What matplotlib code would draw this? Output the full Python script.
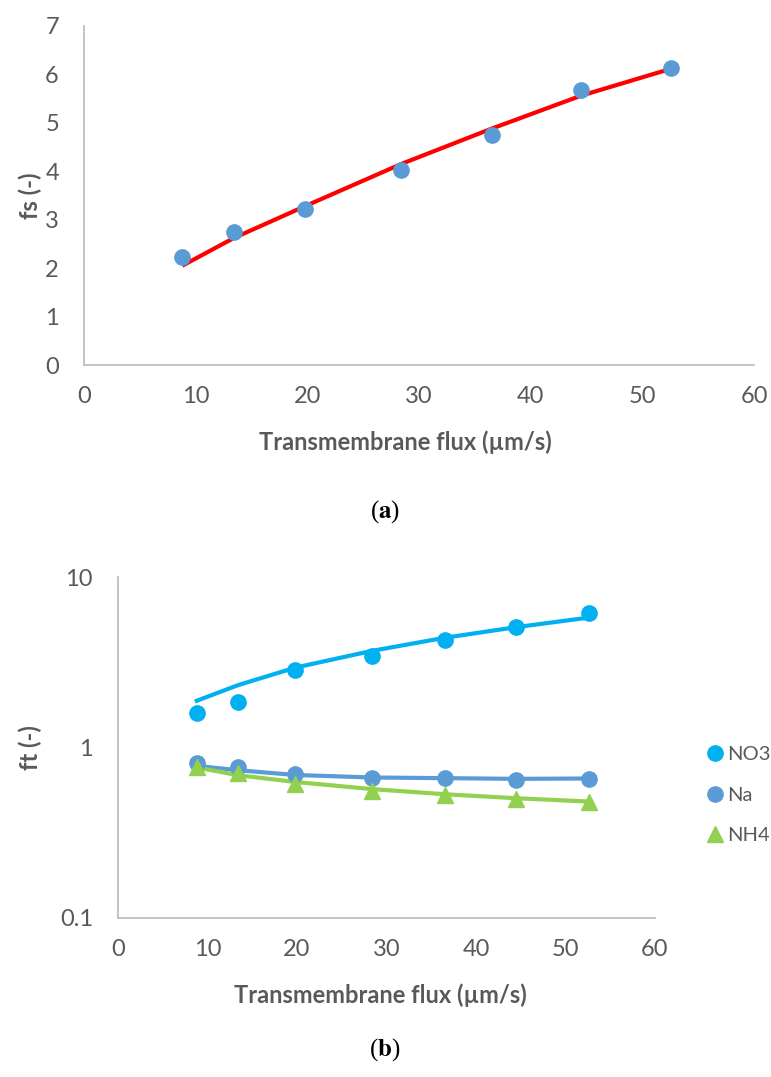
import matplotlib
matplotlib.use("Agg")
import matplotlib.pyplot as plt
from matplotlib.lines import Line2D

# ---- data (a) ----
flux = [8.8, 13.4, 19.8, 28.4, 36.5, 44.5, 52.6]
fs_points = [2.23, 2.74, 3.23, 4.03, 4.75, 5.67, 6.13]
fs_model = [2.05, 2.62, 3.28, 4.15, 4.88, 5.56, 6.12]

# ---- data (b) ----
no3_points = [1.60, 1.86, 2.84, 3.42, 4.28, 5.08, 6.14]
na_points = [0.81, 0.77, 0.70, 0.665, 0.66, 0.645, 0.65]
nh4_points = [0.77, 0.71, 0.61, 0.555, 0.53, 0.497, 0.48]
no3_model = [1.88, 2.32, 2.94, 3.69, 4.40, 5.08, 5.78]
na_model = [0.78, 0.736, 0.69, 0.667, 0.661, 0.655, 0.658]
nh4_model = [0.763, 0.688, 0.628, 0.57, 0.532, 0.504, 0.482]

series_names = ["NO3", "Na", "NH4"]
x_ticks = [0, 10, 20, 30, 40, 50, 60]
y_ticks_a = [0, 1, 2, 3, 4, 5, 6, 7]
y_ticks_b = [0.1, 1, 10]
y_ticklabels_b = ["0.1", "1", "10"]

plt.rcParams["font.family"] = ["Lato", "DejaVu Sans"]
plt.rcParams["mathtext.fontset"] = "stix"
GRAY = "#595959"
AX = "#BFBFBF"
C_NO3 = "#00B0F0"
C_NA = "#5B9BD5"
C_NH4 = "#92D050"
W, H = 771, 1077

fig = plt.figure(figsize=(7.71, 10.77), dpi=100)

def style(ax):
    for s in ["top", "right"]:
        ax.spines[s].set_visible(False)
    for s in ["left", "bottom"]:
        ax.spines[s].set_color(AX)
        ax.spines[s].set_linewidth(1.3)
    ax.tick_params(length=0, labelsize=17, labelcolor=GRAY)
    ax.tick_params(axis="x", pad=15)
    ax.tick_params(axis="y", pad=18)

def labels(ax, xcx, xcy, ycx, ycy, ytxt):
    ax.set_xlabel("Transmembrane flux (µm/s)", fontsize=17, fontweight="bold", color=GRAY, va="center")
    ax.xaxis.set_label_coords(xcx / W, 1 - xcy / H, transform=fig.transFigure)
    ax.set_ylabel(ytxt, fontsize=17, fontweight="bold", color=GRAY, va="center")
    ax.yaxis.set_label_coords(ycx / W, 1 - ycy / H, transform=fig.transFigure)

# (a)
ax1 = fig.add_axes([84 / W, 1 - 365 / H, (754 - 84) / W, (365 - 26) / H])
style(ax1)
ax1.plot(flux, fs_model, color="#FF0000", lw=3, zorder=3, solid_capstyle="butt")
ax1.plot(flux, fs_points, "o", color=C_NA, ms=11, zorder=4)
ax1.set_xlim(0, 60)
ax1.set_ylim(0, 7)
ax1.set_xticks(x_ticks)
ax1.set_yticks(y_ticks_a)
labels(ax1, 405, 442, 30, 196, "fs (-)")

# (b)
ax2 = fig.add_axes([118 / W, 1 - 918 / H, (655 - 118) / W, (918 - 577) / H])
style(ax2)
ax2.set_yscale("log")
ax2.plot(flux, no3_model, color=C_NO3, lw=3, zorder=3)
ax2.plot(flux, na_model, color=C_NA, lw=3, zorder=3)
ax2.plot(flux, nh4_model, color=C_NH4, lw=3, zorder=3)
ax2.plot(flux, no3_points, "o", color=C_NO3, ms=11, zorder=4)
ax2.plot(flux, na_points, "o", color=C_NA, ms=11, zorder=4)
ax2.plot(flux, nh4_points, "^", color=C_NH4, ms=11, zorder=4)
ax2.set_xlim(0, 60)
ax2.set_ylim(0.1, 10)
ax2.set_xticks(x_ticks)
ax2.set_yticks(y_ticks_b)
ax2.set_yticklabels(y_ticklabels_b)
ax2.minorticks_off()
labels(ax2, 380, 995, 30, 748, "ft (-)")

handles = [
    Line2D([], [], ls="none", marker="o", color=C_NO3, ms=11),
    Line2D([], [], ls="none", marker="o", color=C_NA, ms=11),
    Line2D([], [], ls="none", marker="^", color=C_NH4, ms=11),
]
fig.legend(handles, series_names, loc="center left", bbox_to_anchor=(706 / W, 1 - 795 / H),
           frameon=False, fontsize=14.5, labelcolor=GRAY, handletextpad=0.2,
           handlelength=0.85, labelspacing=1.15, borderpad=0, borderaxespad=0)

# captions
fig.text(385 / W, 1 - 512 / H, r"($\mathbf{a}$)", ha="center", va="center", fontsize=18,
         family="Liberation Serif")
fig.text(385 / W, 1 - 1050 / H, r"($\mathbf{b}$)", ha="center", va="center", fontsize=18,
         family="Liberation Serif")

fig.savefig("out.png", dpi=100)
